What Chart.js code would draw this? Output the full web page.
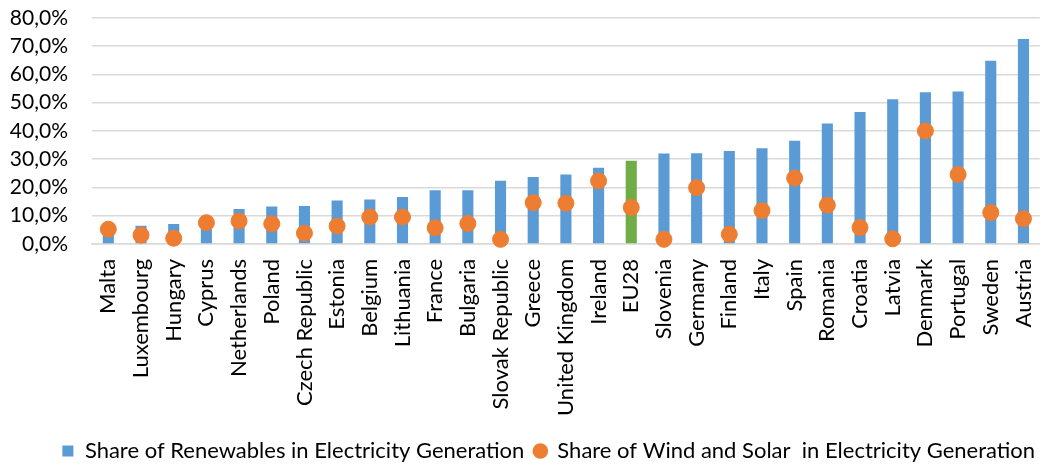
<!DOCTYPE html>
<html>
<head>
<meta charset="utf-8">
<script src="https://cdn.jsdelivr.net/npm/chart.js@4/dist/chart.umd.min.js"></script>
<style>
  html, body { margin: 0; padding: 0; background: #fff; }
  #wrap { width: 1057px; height: 465px; }
</style>
</head>
<body>
<div id="wrap"><canvas id="chart"></canvas></div>
<script>
// Categorias e valores (em %)
const countries = ['Malta', 'Luxembourg', 'Hungary', 'Cyprus', 'Netherlands', 'Poland', 'Czech Republic',
  'Estonia', 'Belgium', 'Lithuania', 'France', 'Bulgaria', 'Slovak Republic', 'Greece', 'United Kingdom',
  'Ireland', 'EU28', 'Slovenia', 'Germany', 'Finland', 'Italy', 'Spain', 'Romania', 'Croatia', 'Latvia',
  'Denmark', 'Portugal', 'Sweden', 'Austria'];
const renewables = [4.2, 6.4, 7.0, 8.0, 12.4, 13.2, 13.4, 15.4, 15.7, 16.6, 19.0, 19.0, 22.4, 23.7, 24.6,
  27.0, 29.4, 32.0, 32.1, 32.9, 33.9, 36.5, 42.6, 46.7, 51.2, 53.7, 54.0, 64.9, 72.6];
const windSolar = [5.2, 3.1, 2.0, 7.5, 8.1, 7.1, 3.8, 6.3, 9.5, 9.5, 5.7, 7.2, 1.6, 14.6, 14.4,
  22.3, 12.9, 1.6, 19.9, 3.4, 11.8, 23.3, 13.7, 5.8, 1.8, 40.0, 24.6, 11.1, 8.9];
const yTicks = [0, 10, 20, 30, 40, 50, 60, 70, 80];

const barColors = countries.map(c => c === 'EU28' ? '#70ad47' : '#5b9bd5');
const fontFamily = "Lato, 'Open Sans', sans-serif";

// desloca a legenda (direita e para baixo), como no original
const legendShift = {
    id: 'legendShift',
    afterLayout(chart) {
        const lg = chart.legend;
        lg.left += 20;
        lg.right += 20;
        lg.top += 7;
        lg.bottom += 7;
    }
};

if (typeof Chart !== 'undefined') {
    const ctx = document.getElementById('chart').getContext('2d');
    new Chart(ctx, {
        type: 'bar',
        data: {
            labels: countries,
            datasets: [{
                label: 'Share of Renewables in Electricity Generation',
                data: renewables,
                backgroundColor: barColors,
                categoryPercentage: 1,
                barPercentage: 0.34,
                pointStyle: 'rect',
                order: 1
            }, {
                type: 'line',
                label: 'Share of Wind and Solar  in Electricity Generation',
                data: windSolar,
                showLine: false,
                pointRadius: 8,
                pointHoverRadius: 8,
                pointBackgroundColor: '#ed7d31',
                pointBorderColor: '#ed7d31',
                backgroundColor: '#ed7d31',
                borderColor: '#ed7d31',
                pointStyle: 'circle',
                clip: false,
                order: 0
            }]
        },
        options: {
            responsive: true,
            maintainAspectRatio: false,
            animation: false,
            layout: { padding: { left: 0, right: 0, top: 18, bottom: 0 } },
            plugins: {
                tooltip: { enabled: false },
                legend: {
                    position: 'bottom',
                    labels: {
                        usePointStyle: true,
                        boxWidth: 12,
                        boxHeight: 11,
                        padding: 10,
                        color: '#000',
                        font: { family: fontFamily, size: 22 },
                        generateLabels: (chart) => chart.data.datasets.map((ds, i) => ({
                            text: ds.label,
                            fillStyle: i === 0 ? '#5b9bd5' : '#ed7d31',
                            strokeStyle: i === 0 ? '#5b9bd5' : '#ed7d31',
                            lineWidth: 0,
                            pointStyle: ds.pointStyle,
                            datasetIndex: i,
                            hidden: false
                        }))
                    }
                }
            },
            scales: {
                x: {
                    grid: { display: false },
                    border: { color: '#d9d9d9', width: 1.5 },
                    ticks: {
                        minRotation: 90,
                        maxRotation: 90,
                        autoSkip: false,
                        padding: 7,
                        color: '#000',
                        font: { family: fontFamily, size: 22 }
                    }
                },
                y: {
                    min: 0,
                    max: 80,
                    afterBuildTicks: (axis) => { axis.ticks = yTicks.map(v => ({ value: v })); },
                    afterFit: (axis) => { axis.width = 92; },
                    grid: {
                        color: '#d9d9d9',
                        lineWidth: 1.5,
                        drawTicks: true,
                        tickLength: 22,
                        tickColor: 'rgba(0,0,0,0)'
                    },
                    border: { display: false },
                    ticks: {
                        autoSkip: false,
                        padding: 2,
                        color: '#000',
                        font: { family: fontFamily, size: 21 },
                        callback: (v) => v.toFixed(1).replace('.', ',') + '%'
                    }
                }
            }
        },
        plugins: [legendShift]
    });
} else {
    console.error('Chart.js não encontrado.');
}
</script>
</body>
</html>
